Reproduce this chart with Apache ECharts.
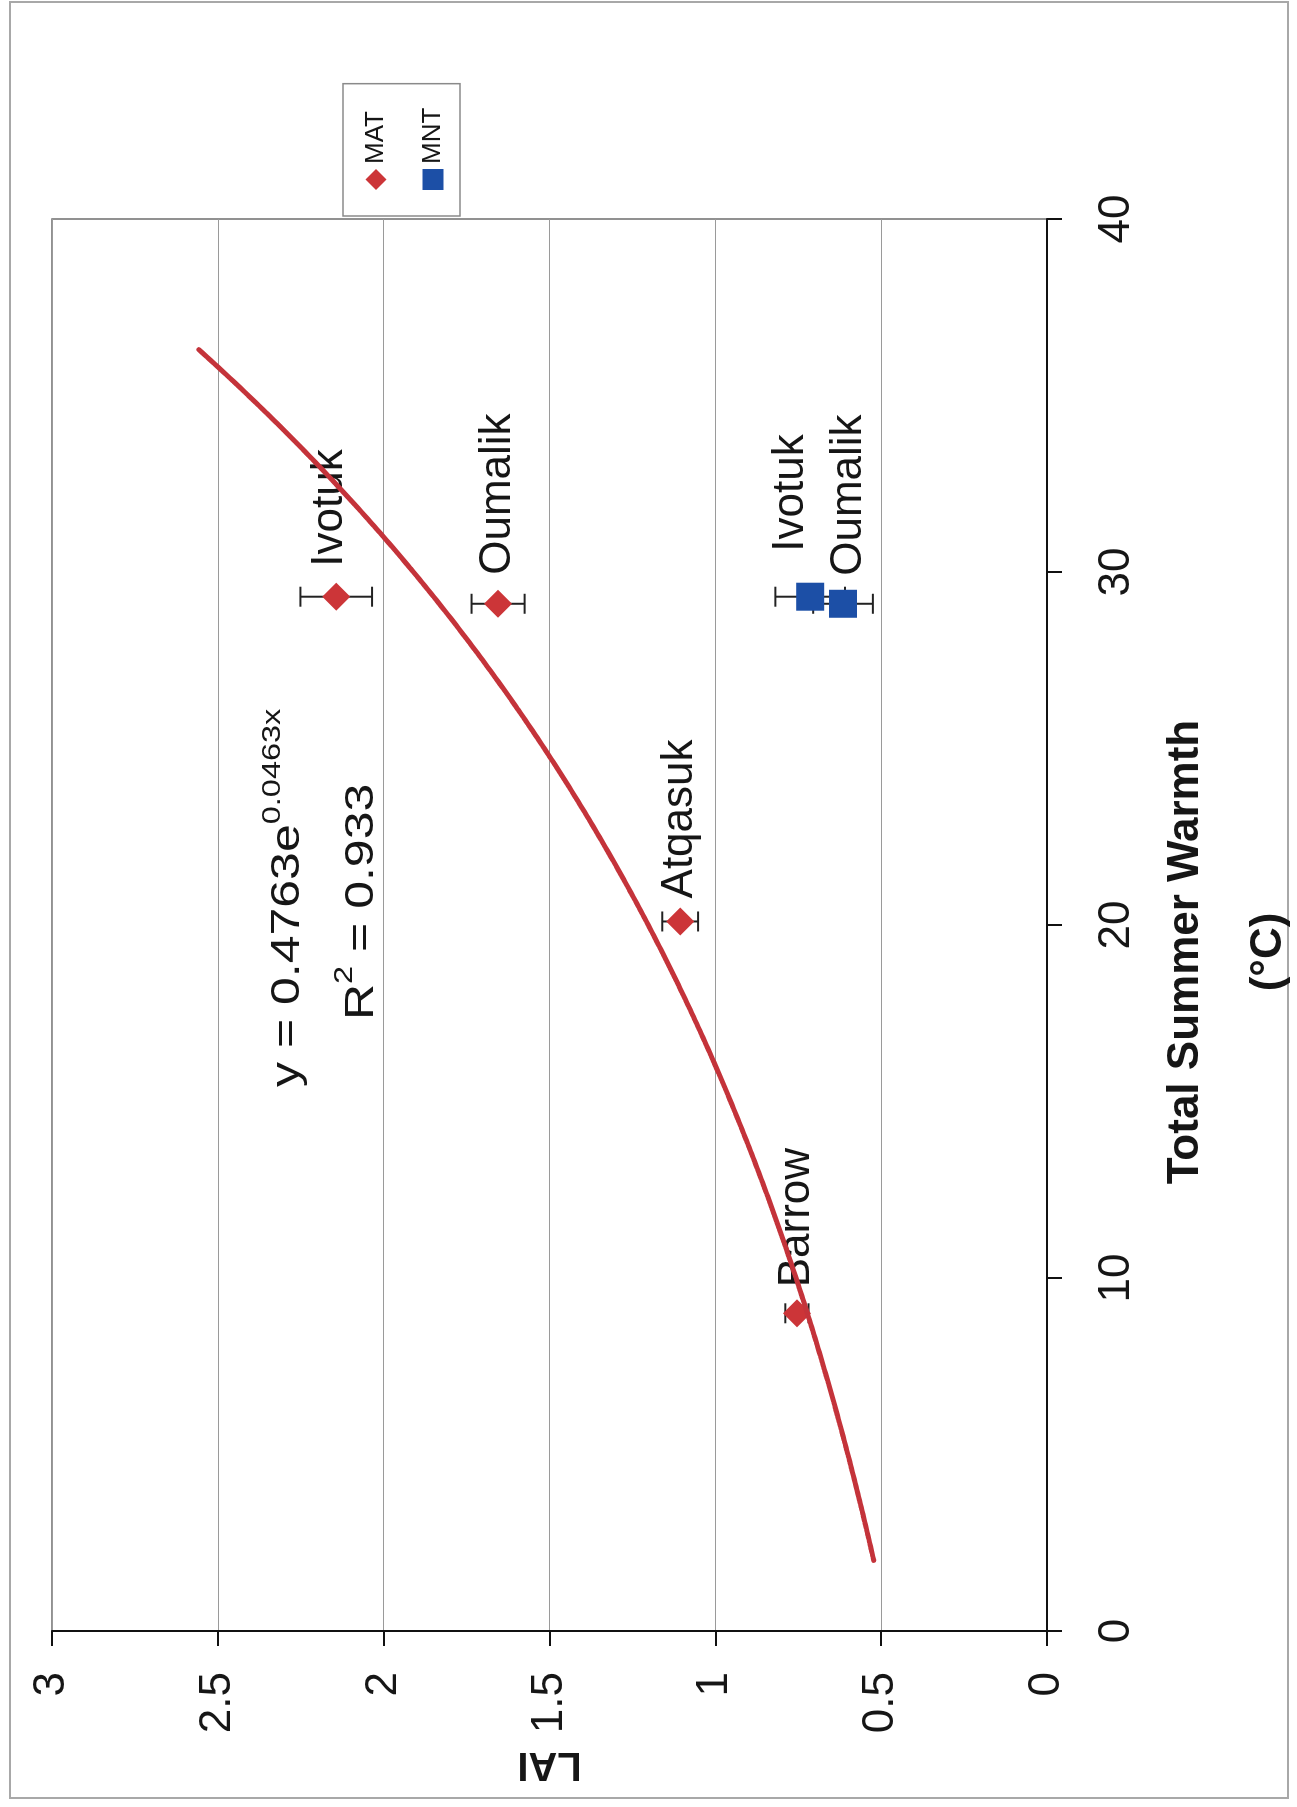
<!DOCTYPE html>
<html>
<head>
<meta charset="utf-8">
<script src="https://cdn.jsdelivr.net/npm/echarts@6/dist/echarts.min.js"></script>
<style>
  html, body { margin: 0; padding: 0; background: #ffffff; overflow: hidden; }
  body { width: 1297px; height: 1807px; position: relative; }
  /* The chart is laid out landscape and turned a quarter turn counter-clockwise onto the portrait page */
  #chart {
    position: absolute; left: 0; top: 0;
    width: 1807px; height: 1297px;
    transform-origin: 0 0;
    transform: translate(0, 1807px) rotate(-90deg);
    background: #ffffff;
  }
</style>
</head>
<body>
<div id="chart"></div>
<script>
// Moist acidic tundra (MAT) sites
const matSites  = ['Barrow', 'Atqasuk', 'Oumalik', 'Ivotuk'];
const matWarmth = [9.0, 20.1, 29.1, 29.3];
const matLai    = [0.754, 1.106, 1.655, 2.143];
const matErr    = [0.035, 0.054, 0.08, 0.108];

// Moist non-acidic tundra (MNT) sites
const mntSites  = ['Oumalik', 'Ivotuk'];
const mntWarmth = [29.1, 29.3];
const mntLai    = [0.615, 0.714];
const mntErr    = [0.09, 0.105];

// Exponential trendline through the MAT sites: LAI = a * e^(b * warmth)
const trendA = 0.4763;
const trendB = 0.0463;
const trendR2 = '0.933';
const trendFrom = 2.0;   // fitted range 9–29.3, extended 7 units either way
const trendTo = 36.3;

// Axis scales
const warmthMin = 0, warmthMax = 40, warmthStep = 10;
const laiMin = 0, laiMax = 3, laiStep = 0.5;

const FONT = '"Liberation Sans", Arial, Helvetica, sans-serif';
const INK = '#161616';
const RED = '#cc3538';
const BLUE = '#1c4fa6';

// label placement per site: [gap from marker, vertical shift]
const labelPlacement = {
  MAT: { Barrow: [12, 0], Atqasuk: [9, 0], Oumalik: [15, 0], Ivotuk: [16, -6] },
  MNT: { Oumalik: [14, 6], Ivotuk: [31, -19] }
};

function pointData(series, names, xs, ys) {
  return names.map((n, i) => {
    const p = labelPlacement[series][n];
    return { name: n, value: [xs[i], ys[i]], label: { distance: p[0], offset: [0, p[1]] } };
  });
}
function errData(xs, ys, es) {
  return xs.map((x, i) => [x, ys[i] - es[i], ys[i] + es[i]]);
}

const trendData = [];
for (let x = trendFrom; x <= trendTo + 1e-9; x += 0.1) {
  trendData.push([x, trendA * Math.exp(trendB * x)]);
}

function renderErrorBar(params, api) {
  const x = api.value(0);
  const lo = api.coord([x, api.value(1)]);
  const hi = api.coord([x, api.value(2)]);
  const cap = 10;
  const st = { stroke: '#222', lineWidth: 2 };
  return {
    type: 'group',
    children: [
      { type: 'line', shape: { x1: lo[0], y1: lo[1], x2: hi[0], y2: hi[1] }, style: st },
      { type: 'line', shape: { x1: lo[0] - cap, y1: lo[1], x2: lo[0] + cap, y2: lo[1] }, style: st },
      { type: 'line', shape: { x1: hi[0] - cap, y1: hi[1], x2: hi[0] + cap, y2: hi[1] }, style: st }
    ]
  };
}

// text widths for building the equation with superscripts
const measureCtx = document.createElement('canvas').getContext('2d');
function textWidth(str, size) {
  measureCtx.font = size + 'px ' + FONT;
  return measureCtx.measureText(str).width;
}

const EQ_SIZE = 40, SUP_SIZE = 26, EQ_STRETCH = 1.25;
const eqMain = 'y = ' + trendA + 'e';
const eqSup = trendB + 'x';
const eqX = 720;
const r2X = 787;
function eqText(str, x, y, size) {
  return {
    type: 'text', x: x, y: y, scaleX: EQ_STRETCH, scaleY: 1, z: 10,
    style: { text: str, fontSize: size, fontFamily: FONT, fill: INK, align: 'left', verticalAlign: 'middle' }
  };
}
const eqSupX = eqX + textWidth(eqMain, EQ_SIZE) * EQ_STRETCH;
const r2SupX = r2X + textWidth('R', EQ_SIZE) * EQ_STRETCH;
const r2RestX = r2SupX + textWidth('2', SUP_SIZE) * EQ_STRETCH;

const chart = echarts.init(document.getElementById('chart'), null, { renderer: 'canvas' });

chart.setOption({
  backgroundColor: '#ffffff',
  animation: false,
  textStyle: { fontFamily: FONT, color: INK },
  grid: {
    left: 176, right: 219, top: 52, bottom: 250,
    outerBoundsMode: 'none', containLabel: false,
    show: true, borderColor: '#6e6e6e', borderWidth: 1.5, backgroundColor: 'transparent'
  },
  legend: {
    data: ['MAT', 'MNT'],
    orient: 'vertical',
    left: 1591, top: 343,
    padding: [18, 24, 12, 26],
    itemGap: 27,
    itemWidth: 21, itemHeight: 21,
    borderColor: '#8a8a8a', borderWidth: 1.5, backgroundColor: '#ffffff',
    textStyle: { fontSize: 26, lineHeight: 30, fontFamily: FONT, color: INK }
  },
  xAxis: {
    type: 'value', min: warmthMin, max: warmthMax, interval: warmthStep,
    name: 'Total Summer Warmth\n(°C)',
    nameLocation: 'middle', nameGap: 80,
    nameTextStyle: { fontSize: 44, fontWeight: 'bold', fontFamily: FONT, color: INK, lineHeight: 83, padding: [0, 54, 0, 0] },
    axisLine: { show: true, lineStyle: { color: '#111', width: 2 } },
    axisTick: { show: true, inside: false, length: 15, lineStyle: { color: '#111', width: 2 } },
    axisLabel: { fontSize: 44, fontFamily: FONT, color: INK, margin: 48 },
    splitLine: { show: false }
  },
  yAxis: {
    type: 'value', min: laiMin, max: laiMax, interval: laiStep,
    name: 'LAI',
    nameLocation: 'middle', nameGap: 112, nameRotate: 90,
    nameTextStyle: { fontSize: 40, fontWeight: 'bold', fontFamily: FONT, color: INK },
    axisLine: { show: true, lineStyle: { color: '#111', width: 2 } },
    axisTick: { show: true, inside: false, length: 15, lineStyle: { color: '#111', width: 2 } },
    axisLabel: { fontSize: 44, fontFamily: FONT, color: INK, margin: 41 },
    splitLine: { show: true, lineStyle: { color: '#9a9a9a', width: 1 } }
  },
  graphic: [
    {
      type: 'rect', z: -1, silent: true,
      shape: { x: 9, y: 10, width: 1796, height: 1278 },
      style: { fill: 'none', stroke: '#a8a8a8', lineWidth: 2 }
    },
    eqText(eqMain, eqX, 288, EQ_SIZE),
    eqText(eqSup, eqSupX, 273, SUP_SIZE),
    eqText('R', r2X, 362, EQ_SIZE),
    eqText('2', r2SupX, 345, SUP_SIZE),
    eqText(' = ' + trendR2, r2RestX, 362, EQ_SIZE)
  ],
  series: [
    {
      name: 'MAT error', type: 'custom', z: 1,
      renderItem: renderErrorBar,
      data: errData(matWarmth, matLai, matErr)
    },
    {
      name: 'MNT error', type: 'custom', z: 1,
      renderItem: renderErrorBar,
      data: errData(mntWarmth, mntLai, mntErr)
    },
    {
      name: 'MAT', type: 'scatter', z: 3,
      symbol: 'diamond', symbolSize: 28,
      itemStyle: { color: RED, opacity: 1 },
      label: { show: true, position: 'right', formatter: '{b}', fontSize: 44, fontFamily: FONT, color: INK },
      data: pointData('MAT', matSites, matWarmth, matLai)
    },
    {
      name: 'MNT', type: 'scatter', z: 3,
      symbol: 'rect', symbolSize: 28,
      itemStyle: { color: BLUE, opacity: 1 },
      label: { show: true, position: 'right', formatter: '{b}', fontSize: 44, fontFamily: FONT, color: INK },
      data: pointData('MNT', mntSites, mntWarmth, mntLai)
    },
    {
      name: 'Expon. (MAT)', type: 'line', z: 4,
      showSymbol: false, symbol: 'none', smooth: false,
      lineStyle: { color: '#c4333a', width: 5, cap: 'round' },
      data: trendData
    }
  ]
});
</script>
</body>
</html>
